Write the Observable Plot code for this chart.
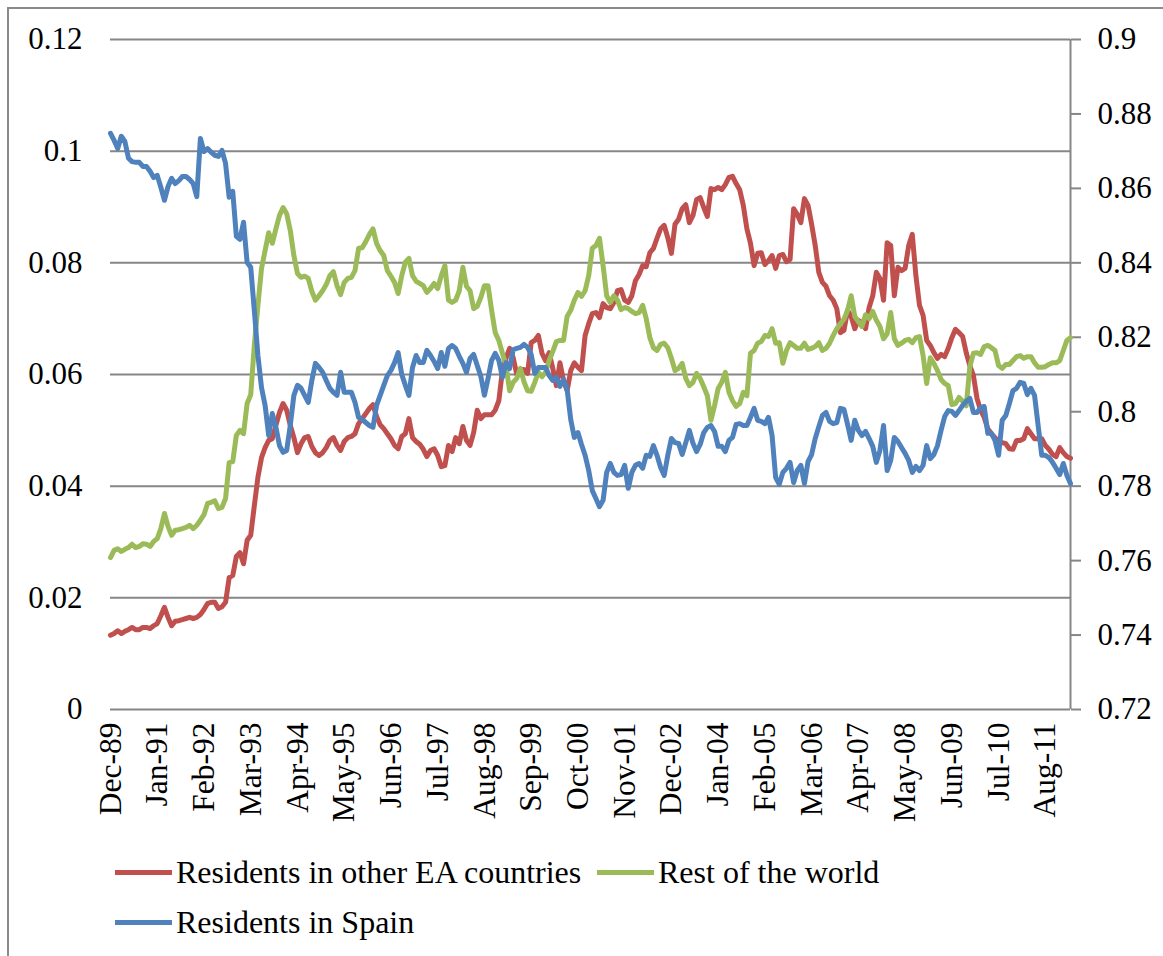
<!DOCTYPE html>
<html><head><meta charset="utf-8">
<script src="https://cdn.jsdelivr.net/npm/d3@7"></script>
<script src="https://cdn.jsdelivr.net/npm/@observablehq/plot@0.6"></script>
<style>
html,body{margin:0;padding:0;background:#fff;width:1163px;height:956px;overflow:hidden;position:relative;}
#frame{position:absolute;left:7px;top:7px;width:1300px;height:1100px;border-top:2px solid #8a8a8a;border-left:2px solid #8a8a8a;}
#chart{position:absolute;left:0;top:0;}
.item{position:absolute;font-family:"Liberation Serif","Times New Roman",serif;font-size:32px;line-height:36px;color:#000;display:flex;align-items:center;white-space:nowrap;}
.swatch{display:inline-block;width:57px;height:5px;margin-right:4px;}
</style></head><body>
<div id="frame"></div>
<div id="chart"></div>
<div id="legend"></div>
<script>
// Series (monthly, Dec-89 .. Mar-12)
const seriesNames = ["Residents in other EA countries", "Rest of the world", "Residents in Spain"];
const seriesColors = ["#C0504D", "#9BBB59", "#4F81BD"];

const red = [
0.0133,0.0136,0.0141,0.0136,0.0140,0.0143,0.0147,0.0143,0.0143,0.0147,
0.0147,0.0145,0.0150,0.0154,0.0168,0.0183,0.0165,0.0150,0.0158,0.0159,
0.0161,0.0163,0.0165,0.0163,0.0165,0.0170,0.0179,0.0190,0.0192,0.0192,
0.0181,0.0184,0.0192,0.0236,0.0240,0.0274,0.0281,0.0261,0.0303,0.0312,
0.0365,0.0416,0.0451,0.0469,0.0482,0.0485,0.0509,0.0532,0.0548,0.0536,
0.0509,0.0487,0.0460,0.0476,0.0487,0.0489,0.0471,0.0460,0.0455,0.0460,
0.0469,0.0482,0.0487,0.0473,0.0464,0.0480,0.0487,0.0489,0.0494,0.0512,
0.0521,0.0530,0.0539,0.0546,0.0525,0.0510,0.0503,0.0494,0.0485,0.0473,
0.0467,0.0489,0.0494,0.0521,0.0487,0.0480,0.0475,0.0466,0.0453,0.0464,
0.0467,0.0455,0.0435,0.0437,0.0473,0.0462,0.0487,0.0476,0.0507,0.0482,
0.0473,0.0496,0.0536,0.0521,0.0528,0.0528,0.0528,0.0536,0.0553,0.0607,
0.0629,0.0647,0.0630,0.0600,0.0609,0.0609,0.0602,0.0657,0.0661,0.0670,
0.0638,0.0625,0.0639,0.0611,0.0580,0.0621,0.0589,0.0571,0.0607,0.0621,
0.0613,0.0607,0.0670,0.0691,0.0709,0.0711,0.0702,0.0727,0.0720,0.0718,
0.0729,0.0750,0.0752,0.0733,0.0729,0.0741,0.0768,0.0779,0.0795,0.0793,
0.0818,0.0826,0.0844,0.0861,0.0867,0.0845,0.0817,0.0869,0.0878,0.0897,
0.0904,0.0872,0.0885,0.0913,0.0917,0.0899,0.0883,0.0933,0.0931,0.0935,
0.0931,0.0940,0.0953,0.0955,0.0942,0.0931,0.0903,0.0861,0.0835,0.0795,
0.0817,0.0818,0.0797,0.0804,0.0813,0.0790,0.0813,0.0815,0.0802,0.0806,
0.0897,0.0887,0.0872,0.0915,0.0903,0.0869,0.0831,0.0783,0.0765,0.0758,
0.0741,0.0733,0.0718,0.0675,0.0679,0.0715,0.0704,0.0682,0.0697,0.0693,
0.0682,0.0720,0.0741,0.0783,0.0772,0.0733,0.0836,0.0831,0.0741,0.0792,
0.0786,0.0790,0.0831,0.0851,0.0777,0.0724,0.0706,0.0661,0.0652,0.0639,
0.0629,0.0636,0.0632,0.0647,0.0666,0.0681,0.0675,0.0668,0.0639,0.0616,
0.0598,0.0557,0.0536,0.0523,0.0503,0.0494,0.0487,0.0480,0.0478,0.0476,
0.0467,0.0466,0.0482,0.0482,0.0485,0.0503,0.0494,0.0485,0.0485,0.0485,
0.0473,0.0466,0.0457,0.0453,0.0469,0.0460,0.0453,0.0450];

const green = [
0.0272,0.0285,0.0288,0.0283,0.0287,0.0290,0.0296,0.0290,0.0292,0.0297,
0.0296,0.0292,0.0301,0.0306,0.0324,0.0351,0.0328,0.0312,0.0321,0.0322,
0.0324,0.0326,0.0330,0.0324,0.0330,0.0339,0.0349,0.0369,0.0371,0.0374,
0.0360,0.0362,0.0378,0.0442,0.0444,0.0491,0.0500,0.0494,0.0548,0.0564,
0.0652,0.0724,0.0790,0.0822,0.0854,0.0835,0.0861,0.0885,0.0899,0.0888,
0.0858,0.0813,0.0781,0.0774,0.0776,0.0772,0.0749,0.0733,0.0741,0.0750,
0.0761,0.0777,0.0784,0.0759,0.0743,0.0765,0.0772,0.0774,0.0786,0.0826,
0.0827,0.0838,0.0851,0.0861,0.0835,0.0822,0.0813,0.0786,0.0776,0.0765,
0.0745,0.0777,0.0801,0.0808,0.0777,0.0767,0.0763,0.0759,0.0747,0.0754,
0.0763,0.0754,0.0777,0.0795,0.0733,0.0729,0.0733,0.0750,0.0792,0.0758,
0.0750,0.0718,0.0722,0.0738,0.0759,0.0759,0.0715,0.0675,0.0661,0.0638,
0.0616,0.0571,0.0586,0.0593,0.0611,0.0587,0.0571,0.0570,0.0586,0.0604,
0.0596,0.0604,0.0625,0.0641,0.0659,0.0661,0.0661,0.0704,0.0715,0.0733,
0.0747,0.0740,0.0750,0.0777,0.0826,0.0831,0.0844,0.0795,0.0741,0.0729,
0.0741,0.0733,0.0716,0.0720,0.0718,0.0713,0.0709,0.0711,0.0724,0.0700,
0.0666,0.0648,0.0643,0.0654,0.0656,0.0648,0.0629,0.0607,0.0611,0.0620,
0.0593,0.0580,0.0586,0.0602,0.0593,0.0578,0.0562,0.0518,0.0544,0.0575,
0.0586,0.0604,0.0568,0.0553,0.0543,0.0548,0.0568,0.0562,0.0638,0.0643,
0.0656,0.0659,0.0670,0.0668,0.0682,0.0656,0.0657,0.0620,0.0643,0.0657,
0.0652,0.0647,0.0647,0.0656,0.0645,0.0647,0.0650,0.0657,0.0643,0.0647,
0.0656,0.0670,0.0682,0.0691,0.0699,0.0715,0.0741,0.0704,0.0695,0.0686,
0.0707,0.0700,0.0713,0.0697,0.0686,0.0664,0.0673,0.0711,0.0664,0.0652,
0.0656,0.0661,0.0663,0.0657,0.0666,0.0668,0.0634,0.0584,0.0630,0.0620,
0.0607,0.0591,0.0584,0.0580,0.0546,0.0548,0.0559,0.0552,0.0544,0.0614,
0.0638,0.0639,0.0636,0.0650,0.0652,0.0648,0.0643,0.0616,0.0611,0.0618,
0.0618,0.0625,0.0632,0.0634,0.0629,0.0632,0.0632,0.0621,0.0613,0.0613,
0.0614,0.0618,0.0621,0.0621,0.0625,0.0643,0.0661,0.0666];

// right axis
const blue = [
0.8748,0.8729,0.8707,0.8740,0.8726,0.8681,0.8672,0.8670,0.8670,0.8659,
0.8659,0.8646,0.8629,0.8635,0.8603,0.8568,0.8605,0.8627,0.8613,0.8621,
0.8632,0.8632,0.8624,0.8613,0.8578,0.8734,0.8699,0.8707,0.8697,0.8689,
0.8686,0.8702,0.8667,0.8576,0.8592,0.8471,0.8463,0.8509,0.8401,0.8388,
0.8272,0.8151,0.8065,0.8017,0.7936,0.7995,0.7958,0.7909,0.7891,0.7896,
0.7963,0.8044,0.8071,0.8063,0.8044,0.8025,0.8084,0.8130,0.8119,0.8106,
0.8084,0.8063,0.8052,0.8044,0.8106,0.8052,0.8052,0.8052,0.8025,0.7985,
0.7979,0.7971,0.7963,0.7958,0.8017,0.8044,0.8071,0.8097,0.8111,0.8132,
0.8159,0.8100,0.8071,0.8044,0.8119,0.8151,0.8132,0.8132,0.8165,0.8151,
0.8135,0.8116,0.8159,0.8122,0.8170,0.8178,0.8170,0.8149,0.8130,0.8106,
0.8143,0.8154,0.8124,0.8095,0.8044,0.8089,0.8138,0.8157,0.8138,0.8092,
0.8132,0.8116,0.8167,0.8170,0.8173,0.8181,0.8173,0.8154,0.8103,0.8119,
0.8119,0.8119,0.8097,0.8084,0.8092,0.8068,0.8087,0.8060,0.7979,0.7931,
0.7944,0.7912,0.7883,0.7842,0.7788,0.7767,0.7745,0.7762,0.7837,0.7861,
0.7837,0.7829,0.7831,0.7856,0.7794,0.7837,0.7856,0.7861,0.7848,0.7883,
0.7880,0.7909,0.7883,0.7850,0.7829,0.7883,0.7928,0.7917,0.7915,0.7885,
0.7917,0.7950,0.7915,0.7893,0.7912,0.7944,0.7958,0.7963,0.7947,0.7907,
0.7907,0.7893,0.7923,0.7931,0.7966,0.7968,0.7963,0.7963,0.7985,0.8009,
0.7977,0.7974,0.7968,0.7985,0.7936,0.7823,0.7805,0.7837,0.7848,0.7864,
0.7810,0.7842,0.7856,0.7807,0.7866,0.7885,0.7928,0.7960,0.7990,0.7998,
0.7974,0.7968,0.7971,0.8009,0.8006,0.7966,0.7923,0.7977,0.7950,0.7936,
0.7947,0.7928,0.7907,0.7864,0.7896,0.7963,0.7842,0.7869,0.7931,0.7920,
0.7904,0.7888,0.7869,0.7837,0.7853,0.7842,0.7856,0.7909,0.7874,0.7885,
0.7909,0.7950,0.7987,0.8003,0.8001,0.7990,0.8003,0.8017,0.8028,0.8036,
0.7998,0.7998,0.8011,0.8014,0.7942,0.7942,0.7923,0.7883,0.7977,0.7990,
0.8022,0.8057,0.8063,0.8079,0.8076,0.8046,0.8063,0.8044,0.7963,0.7883,
0.7883,0.7877,0.7864,0.7848,0.7831,0.7861,0.7829,0.7807];

const xTickLabels = ["Dec-89","Jan-91","Feb-92","Mar-93","Apr-94","May-95","Jun-96","Jul-97","Aug-98","Sep-99","Oct-00","Nov-01","Dec-02","Jan-04","Feb-05","Mar-06","Apr-07","May-08","Jun-09","Jul-10","Aug-11"];
const xTickStep = 13; // months between labels
const leftTicks = [0, 0.02, 0.04, 0.06, 0.08, 0.1, 0.12];
const rightTicks = [0.72, 0.74, 0.76, 0.78, 0.8, 0.82, 0.84, 0.86, 0.88, 0.9];

const leftDomain = [0, 0.12];
const rightDomain = [0.72, 0.9];
const toLeft = v => leftDomain[0] + (v - rightDomain[0]) / (rightDomain[1] - rightDomain[0]) * (leftDomain[1] - leftDomain[0]);
const toRight = v => rightDomain[0] + (v - leftDomain[0]) / (leftDomain[1] - leftDomain[0]) * (rightDomain[1] - rightDomain[0]);

const n = red.length;
const rows = d3.range(n).map(i => ({i, red: red[i], green: green[i], blue: toLeft(blue[i])}));

const H = 850;
const grid = "#868686";
const fontFamily = '"Liberation Serif", "Times New Roman", serif';

const chart = Plot.plot({
  width: 1163,
  height: H,
  marginLeft: 110,
  marginRight: 93,
  marginTop: 39,
  marginBottom: H - 709,
  x: {domain: [0, n - 1], axis: null},
  y: {domain: leftDomain, axis: null},
  style: {fontFamily, background: "transparent", color: "#000", overflow: "visible"},
  marks: [
    Plot.ruleY(leftTicks, {stroke: grid, strokeWidth: 2}),
    Plot.ruleX([n - 1], {y1: leftDomain[0], y2: leftDomain[1], stroke: grid, strokeWidth: 2}),
    Plot.axisY({anchor: "left", ticks: leftTicks, tickSize: 0, tickPadding: 28, label: null,
      tickFormat: d => String(+d.toFixed(2)), fontSize: 31}),
    Plot.axisY({anchor: "right", ticks: rightTicks.map(toLeft), tickSize: 10, tickPadding: 17, label: null,
      stroke: grid, strokeWidth: 2, fill: "#000",
      tickFormat: d => String(+toRight(d).toFixed(2)), fontSize: 31}),
    Plot.text(xTickLabels, {x: (d, i) => i * xTickStep, y: leftDomain[0], text: d => d, rotate: -90,
      textAnchor: "end", dy: 13, fontSize: 31.5, fill: "#000"}),
    Plot.line(rows, {x: "i", y: "red", stroke: seriesColors[0], strokeWidth: 5}),
    Plot.line(rows, {x: "i", y: "green", stroke: seriesColors[1], strokeWidth: 5}),
    Plot.line(rows, {x: "i", y: "blue", stroke: seriesColors[2], strokeWidth: 5})
  ]
});
document.getElementById("chart").appendChild(chart);

// legend
const legendPos = [[115, 854], [597, 854], [115, 904]];
const legend = document.getElementById("legend");
seriesNames.forEach((name, k) => {
  const div = document.createElement("div");
  div.className = "item";
  div.style.left = legendPos[k][0] + "px";
  div.style.top = legendPos[k][1] + "px";
  const sw = document.createElement("span");
  sw.className = "swatch";
  sw.style.background = seriesColors[k];
  div.appendChild(sw);
  div.appendChild(document.createTextNode(name));
  legend.appendChild(div);
});
</script>
</body></html>
